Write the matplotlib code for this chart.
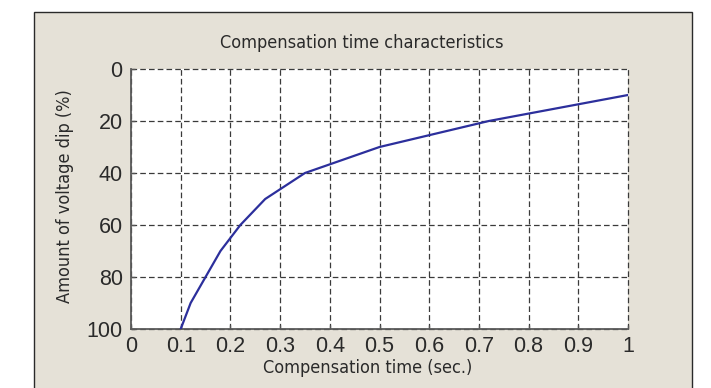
import numpy as np
from matplotlib import pyplot as plt
from matplotlib.patches import Rectangle

# compensation time (sec.) vs amount of voltage dip (%)
comp_time = [0.1, 0.12, 0.15, 0.18, 0.22, 0.27, 0.35, 0.5, 0.72, 1.0]
voltage_dip = [100, 90, 80, 70, 60, 50, 40, 30, 20, 10]

x_ticks = [0, 0.1, 0.2, 0.3, 0.4, 0.5, 0.6, 0.7, 0.8, 0.9, 1]
x_tick_labels = ["0", "0.1", "0.2", "0.3", "0.4", "0.5", "0.6", "0.7", "0.8", "0.9", "1"]
y_ticks = [0, 20, 40, 60, 80, 100]

plt.rcParams["font.family"] = ["Liberation Sans", "DejaVu Sans"]

fig = plt.figure(figsize=(7.11, 3.88), dpi=100)
fig.patch.set_facecolor("white")

# beige panel behind the plot
fig.patches.append(Rectangle((34 / 711, -0.05), (692 - 34) / 711, 1 - 12 / 388 + 0.05,
                             transform=fig.transFigure, facecolor="#e5e1d7",
                             edgecolor="#2a2a2a", linewidth=1.0, zorder=-5))

ax = fig.add_axes([131 / 711, 1 - 329 / 388, 497 / 711, 260 / 388])
ax.set_zorder(2)
ax.set_facecolor("white")
ax.plot(comp_time, voltage_dip, color="#2c2f9c", linewidth=1.6, zorder=3)

ax.set_xlim(0, 1)
ax.set_ylim(100, 0)
ax.set_xticks(x_ticks)
ax.set_xticklabels(x_tick_labels)
ax.set_yticks(y_ticks)
ax.tick_params(direction="in", length=3, width=1, colors="#555555",
               labelcolor="#2a2a2a", labelsize=15.5)
ax.tick_params(axis="x", pad=5)
ax.tick_params(axis="y", pad=6)

ax.spines["top"].set_visible(False)
ax.spines["right"].set_visible(False)
for s in ["left", "bottom"]:
    ax.spines[s].set_color("#5a5a5a")
    ax.spines[s].set_linewidth(1.3)

ax.grid(True, color="#3a3a3a", linestyle=(0, (4.5, 2.5)), linewidth=0.9)
for gl in ax.get_xgridlines() + ax.get_ygridlines():
    gl.set_clip_on(False)

lab = dict(ha="center", va="center", fontsize=13, color="#2a2a2a",
           family=["DejaVu Sans"], stretch="condensed")
fig.text(362 / 711, 1 - 43 / 388, "Compensation time characteristics", **lab)
fig.text(368 / 711, 1 - 368 / 388, "Compensation time (sec.)", **lab)
fig.text(65 / 711, 1 - 196 / 388, "Amount of voltage dip (%)", rotation=90, **lab)

plt.savefig("out.png", dpi=100, facecolor=fig.get_facecolor())
